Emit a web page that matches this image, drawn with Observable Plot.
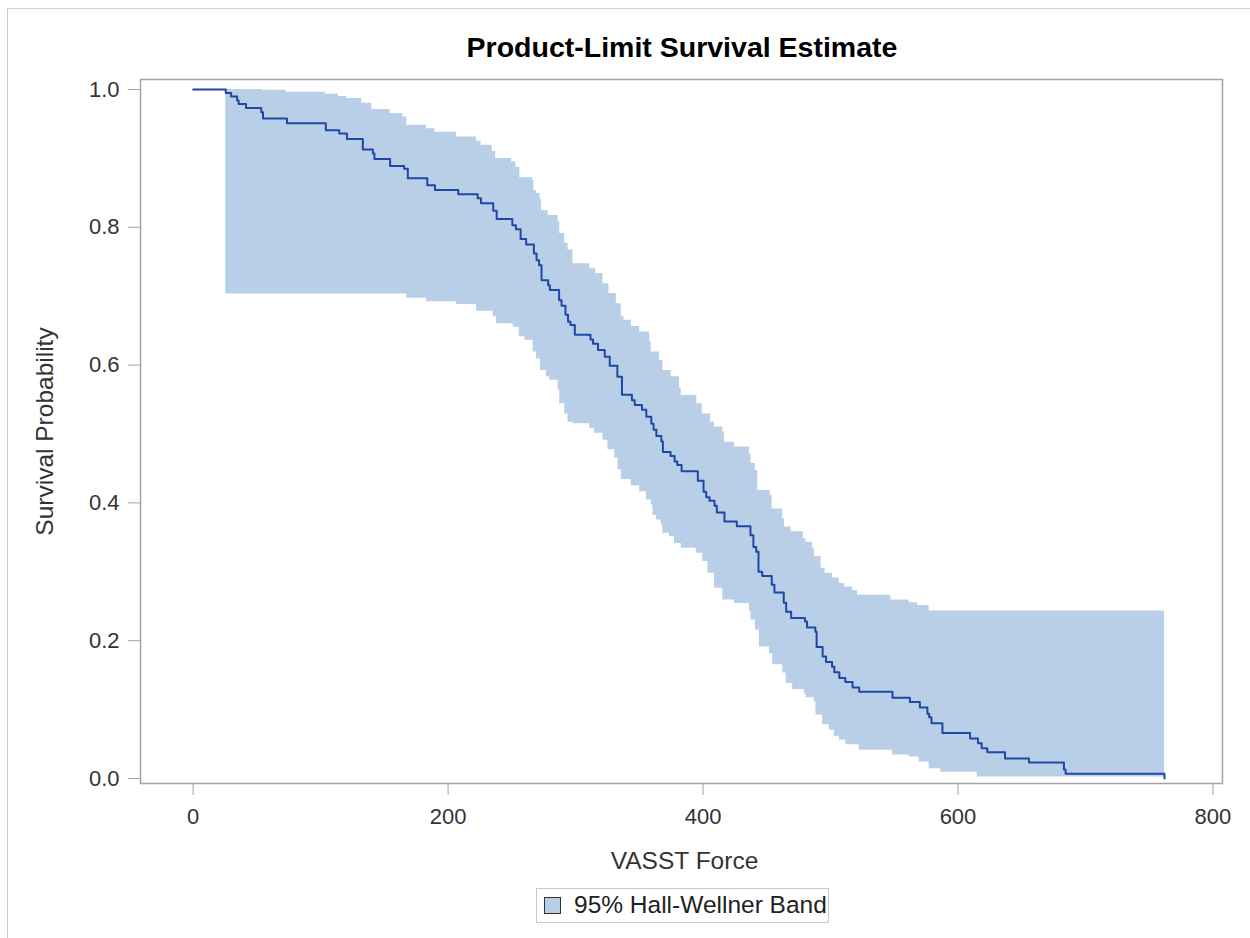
<!DOCTYPE html>
<html>
<head>
<meta charset="utf-8">
<script src="https://cdn.jsdelivr.net/npm/d3@7"></script>
<script src="https://cdn.jsdelivr.net/npm/@observablehq/plot@0.6"></script>
<style>
  html, body { margin: 0; padding: 0; background: #fff; width: 1250px; height: 938px; overflow: hidden; }
  body { position: relative; font-family: "Liberation Sans", Arial, sans-serif; }
  #border { position: absolute; left: 7px; top: 8px; width: 1300px; height: 1000px; border: 1.5px solid #cfcfcf; box-sizing: border-box; z-index: 5; pointer-events: none; }
  #title { position: absolute; left: 140px; width: 1084px; top: 33px; text-align: center; font-size: 28.5px; line-height: 28px; font-weight: bold; color: #000; }
  #chart { position: absolute; left: 0; top: 70px; }
  #legend { position: absolute; left: 536px; top: 888px; width: 293px; height: 35px; border: 1px solid #c8c8c8; box-sizing: border-box; background: #fff; }
  #legend .sw { position: absolute; left: 7px; top: 8px; width: 17px; height: 17px; box-sizing: border-box; border: 1.5px solid #333; background: #b9cfe7; }
  #legend .tx { position: absolute; left: 37px; top: 4px; font-size: 24.5px; line-height: 24px; color: #222; white-space: nowrap; }
</style>
</head>
<body>
<div id="title">Product-Limit Survival Estimate</div>
<div id="chart"></div>
<div id="legend"><div class="sw"></div><div class="tx">95% Hall-Wellner Band</div></div>
<div id="border"></div>
<script>
// Kaplan-Meier survival estimate (step function, value after each time)
const survX = [0, 25.6, 29.8, 34.5, 35.7, 41.5, 53.5, 54.8, 73.6, 104.1, 114.6, 120.6, 133.1, 141.0, 142.2, 154.5, 165.5, 168.4, 183.7, 189.7, 208.0, 223.2, 225.8, 235.4, 238.1, 250.4, 253.2, 256.9, 261.2, 267.3, 269.4, 271.4, 273.3, 278.5, 279.8, 287.1, 289.0, 292.1, 294.1, 296.0, 299.4, 311.7, 313.7, 317.6, 322.9, 326.8, 332.8, 336.4, 344.2, 346.4, 352.1, 355.5, 359.4, 361.2, 363.4, 367.3, 368.5, 374.5, 377.7, 379.8, 383.2, 395.9, 400.4, 402.5, 405.1, 409.0, 410.8, 416.8, 426.5, 437.2, 439.5, 441.7, 443.5, 446.4, 453.9, 456.0, 463.3, 465.2, 469.1, 480.0, 481.6, 488.1, 489.1, 493.8, 496.5, 501.2, 503.0, 506.9, 511.6, 517.3, 522.5, 548.6, 562.3, 570.1, 576.0, 577.4, 579.2, 587.8, 609.5, 615.7, 618.6, 623.0, 636.9, 655.7, 683.1, 684.4, 762];
const survY = [1, 0.995, 0.990, 0.984, 0.979, 0.973, 0.967, 0.958, 0.951, 0.941, 0.936, 0.928, 0.913, 0.907, 0.899, 0.889, 0.885, 0.871, 0.861, 0.854, 0.848, 0.842, 0.835, 0.824, 0.812, 0.803, 0.797, 0.783, 0.775, 0.762, 0.752, 0.745, 0.723, 0.716, 0.709, 0.694, 0.686, 0.673, 0.663, 0.658, 0.644, 0.637, 0.631, 0.622, 0.612, 0.599, 0.583, 0.557, 0.549, 0.542, 0.535, 0.525, 0.515, 0.506, 0.497, 0.489, 0.474, 0.468, 0.460, 0.455, 0.446, 0.432, 0.416, 0.408, 0.403, 0.396, 0.386, 0.373, 0.366, 0.353, 0.336, 0.329, 0.300, 0.294, 0.281, 0.270, 0.255, 0.242, 0.233, 0.228, 0.219, 0.213, 0.191, 0.177, 0.169, 0.162, 0.154, 0.146, 0.140, 0.132, 0.126, 0.117, 0.111, 0.103, 0.094, 0.089, 0.080, 0.066, 0.058, 0.051, 0.044, 0.038, 0.029, 0.023, 0.013, 0.007, 0];

// 95% Hall-Wellner band: upper limit (step function)
const upperX = [25.6, 54.0, 73.1, 103.6, 114.0, 120.6, 132.3, 140.2, 154.5, 164.4, 167.6, 183.2, 189.7, 206.7, 222.4, 225.8, 234.6, 237.3, 249.8, 253.2, 256.3, 266.2, 267.3, 269.4, 272.0, 273.3, 278.5, 286.3, 287.6, 291.5, 294.1, 298.0, 311.1, 315.8, 321.5, 326.2, 332.0, 335.9, 338.0, 343.8, 350.3, 358.1, 359.4, 365.9, 368.5, 375.1, 381.6, 382.9, 395.1, 399.4, 405.9, 409.0, 415.5, 416.8, 424.7, 436.4, 437.7, 441.1, 442.9, 452.6, 454.2, 462.5, 463.8, 469.1, 478.7, 480.8, 486.0, 487.3, 492.6, 495.7, 501.6, 506.9, 510.8, 517.4, 521.2, 547.4, 561.7, 568.2, 577.4];
const upperY = [1.0, 0.999, 0.996, 0.993, 0.990, 0.987, 0.980, 0.971, 0.965, 0.960, 0.948, 0.943, 0.938, 0.931, 0.925, 0.919, 0.910, 0.900, 0.895, 0.887, 0.872, 0.868, 0.853, 0.849, 0.841, 0.824, 0.817, 0.808, 0.791, 0.777, 0.767, 0.747, 0.740, 0.733, 0.718, 0.704, 0.689, 0.670, 0.665, 0.656, 0.648, 0.634, 0.619, 0.607, 0.592, 0.583, 0.566, 0.556, 0.544, 0.529, 0.517, 0.510, 0.503, 0.488, 0.481, 0.471, 0.457, 0.447, 0.418, 0.411, 0.391, 0.377, 0.365, 0.358, 0.348, 0.343, 0.334, 0.322, 0.305, 0.298, 0.291, 0.283, 0.278, 0.273, 0.266, 0.259, 0.255, 0.251, 0.243];

// 95% Hall-Wellner band: lower limit (step function)
const lowerX = [25.6, 167.6, 183.2, 206.7, 222.4, 235.4, 238.1, 251.1, 255.8, 260.2, 266.7, 269.4, 272.5, 277.2, 279.8, 286.3, 287.6, 291.5, 294.1, 298.0, 311.1, 315.0, 321.5, 325.4, 330.7, 333.3, 335.9, 343.8, 350.3, 355.5, 359.4, 360.7, 363.4, 367.3, 368.5, 373.7, 377.6, 382.9, 394.7, 399.8, 403.8, 409.0, 415.5, 424.7, 436.4, 437.7, 441.1, 444.2, 452.1, 454.7, 462.5, 465.2, 470.3, 479.5, 480.8, 487.3, 488.6, 493.8, 499.0, 503.0, 506.9, 512.1, 522.5, 548.6, 561.7, 569.5, 577.4, 586.5, 615.2];
const lowerY = [0.703, 0.697, 0.692, 0.688, 0.678, 0.670, 0.660, 0.655, 0.641, 0.636, 0.619, 0.609, 0.592, 0.583, 0.578, 0.564, 0.544, 0.529, 0.517, 0.515, 0.508, 0.501, 0.491, 0.477, 0.465, 0.448, 0.434, 0.425, 0.416, 0.404, 0.397, 0.382, 0.375, 0.368, 0.356, 0.351, 0.341, 0.334, 0.327, 0.315, 0.298, 0.276, 0.259, 0.254, 0.242, 0.230, 0.215, 0.191, 0.181, 0.165, 0.153, 0.138, 0.129, 0.123, 0.117, 0.111, 0.092, 0.078, 0.070, 0.061, 0.056, 0.049, 0.041, 0.034, 0.031, 0.024, 0.014, 0.009, 0.002];

const xTicks = [0, 200, 400, 600, 800];
const yTicks = [0, 0.2, 0.4, 0.6, 0.8, 1.0];
const xLabel = "VASST Force";
const yLabel = "Survival Probability";

// tables for the library
const surv = survX.map((x, i) => ({x, y: survY[i]}));
const lastTime = survX[survX.length - 1];
const stepValue = (xs, ys, t) => { let v = ys[0]; for (let i = 0; i < xs.length; i++) if (xs[i] <= t) v = ys[i]; return v; };
const bandTimes = Array.from(new Set([...upperX, ...lowerX, lastTime])).sort((a, b) => a - b);
const band = bandTimes.map(t => ({x: t, lower: stepValue(lowerX, lowerY, t), upper: stepValue(upperX, upperY, t)}));

const chart = Plot.plot({
  width: 1250,
  height: 810,
  marginLeft: 140,
  marginRight: 28,
  marginTop: 9,
  marginBottom: 97,
  style: {fontFamily: "'Liberation Sans', Arial, sans-serif", fontSize: "22px", background: "transparent", color: "#333"},
  x: {domain: [-41.3, 807.5]},
  y: {domain: [-0.0073, 1.0145]},
  marks: [
    Plot.areaY(band, {x: "x", y1: "lower", y2: "upper", curve: "step-after", fill: "#b9cfe7"}),
    Plot.line(surv, {x: "x", y: "y", curve: "step-after", stroke: "#1f48a6", strokeWidth: 2}),
    Plot.frame({stroke: "#a3a3a3", strokeWidth: 1.5}),
    Plot.axisX({ticks: xTicks, tickSize: 12, tickPadding: 13, tickFormat: d => String(d), stroke: "#a3a3a3", color: "#333", label: null, fontSize: 22}),
    Plot.axisY({ticks: yTicks, tickSize: 12, tickPadding: 9, tickFormat: d3.format(".1f"), stroke: "#a3a3a3", color: "#333", label: null, fontSize: 22}),
    Plot.text([xLabel], {frameAnchor: "bottom", dy: 85, dx: 3, lineAnchor: "bottom", textAnchor: "middle", fontSize: 24.5, fill: "#333"}),
    Plot.text([yLabel], {frameAnchor: "left", dx: -88, rotate: -90, lineAnchor: "bottom", textAnchor: "middle", fontSize: 24.5, fill: "#333"})
  ]
});
document.getElementById("chart").appendChild(chart);
</script>
</body>
</html>
